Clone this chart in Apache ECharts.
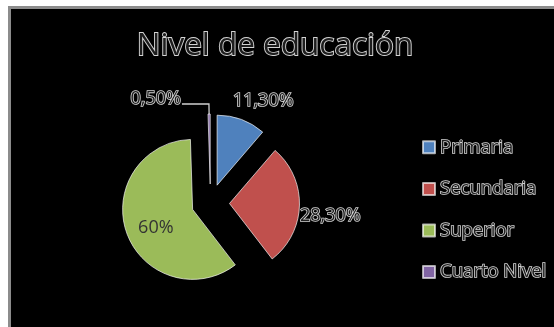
<!DOCTYPE html>
<html>
<head>
<meta charset="utf-8">
<script src="https://cdn.jsdelivr.net/npm/echarts@6/dist/echarts.min.js"></script>
<style>
  html, body { margin: 0; padding: 0; background: #fff; }
  #chart { width: 554px; height: 327px; }
</style>
</head>
<body>
<div id="chart"></div>
<script>
// Education level shares (percent)
const categories = ['Primaria', 'Secundaria', 'Superior', 'Cuarto Nivel'];
const shares = [11.3, 28.3, 60, 0.5];
const sliceColors = ['#4F81BD', '#C0504D', '#9BBB59', '#8064A2'];
const chartTitle = 'Nivel de educación';

const FONT = '"Open Sans", "DejaVu Sans", sans-serif';

// Spanish-style percent text: 11,30% / 60%
function pctText(v) {
  return Number.isInteger(v) ? v + '%' : v.toFixed(2).replace('.', ',') + '%';
}

// Outlined ("hollow") text look used for the title, legend and outer labels
const hollow = {
  color: '#1e1e1e',
  textBorderColor: '#d4d4d4',
  textBorderWidth: 1.6
};

const pieData = categories.map((name, i) => ({
  name: name,
  value: shares[i],
  selected: true,
  itemStyle: { color: sliceColors[i] },
  label: i === 2
    ? { position: 'inside', color: '#333', textBorderWidth: 0 }
    : (i === 3 ? { distanceToLabelLine: 1 } : {}),
  labelLine: { show: i === 3 }
}));

// Fine shifts of each label from its default spot
const labelShift = [[-44, -9], [-41.5, 10.5], [-1, 6], [0, -5]];
function placeLabel(p) {
  const s = labelShift[p.dataIndex];
  return { dx: s[0], dy: s[1] };
}

const chart = echarts.init(document.getElementById('chart'), null, { renderer: 'canvas' });
chart.setOption({
  backgroundColor: '#ffffff',
  animation: false,
  graphic: [{
    type: 'rect',
    z: -10,
    silent: true,
    shape: { x: 9.5, y: 7.5, width: 600, height: 400 },
    style: { fill: '#000000', stroke: '#8c8c8c', lineWidth: 3 }
  }],
  title: {
    text: chartTitle,
    left: 270,
    top: 25,
    textAlign: 'center',
    textStyle: Object.assign({
      fontFamily: FONT,
      fontSize: 31.5,
      fontWeight: 'normal'
    }, hollow, { textBorderWidth: 1.8 })
  },
  legend: {
    orient: 'vertical',
    left: 417,
    top: 132,
    itemWidth: 12,
    itemHeight: 12,
    itemGap: 21,
    icon: 'rect',
    selectedMode: false,
    data: categories,
    textStyle: Object.assign({
      fontFamily: FONT,
      fontSize: 18.5,
      lineHeight: 18,
      padding: [0, 0, 0, 0]
    }, hollow)
  },
  series: [{
    type: 'pie',
    center: [210.5, 203],
    radius: 70,
    startAngle: 90,
    clockwise: true,
    selectedMode: 'multiple',
    selectedOffset: 19,
    avoidLabelOverlap: false,
    emphasis: { disabled: true },
    itemStyle: { borderColor: 'rgba(255,255,255,0.65)', borderWidth: 1 },
    label: Object.assign({
      show: true,
      position: 'outside',
      fontFamily: FONT,
      fontSize: 18,
      formatter: p => pctText(p.value)
    }, hollow),
    labelLine: {
      length: 10,
      length2: 27,
      lineStyle: { color: '#d0d0d0', width: 1.3 }
    },
    labelLayout: placeLabel,
    data: pieData
  }]
});
</script>
</body>
</html>
